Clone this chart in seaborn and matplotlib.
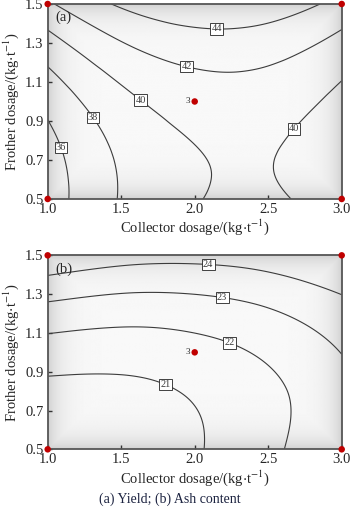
import numpy as np
import matplotlib
matplotlib.use("Agg")
import matplotlib.pyplot as plt
import matplotlib.tri as mtri
import seaborn as sns

# Factor levels (kg/t)
collector = [1.0, 1.5, 2.0, 2.5, 3.0]
frother = [0.5, 0.75, 1.0, 1.25, 1.5]

# Response values on the factor grid: rows follow `frother`, columns follow `collector`
yield_pct = [
    [34.97, 38.14, 39.89, 40.21, 39.11],
    [35.33, 38.35, 39.94, 40.10, 38.84],
    [36.57, 39.43, 40.87, 40.88, 39.47],
    [38.70, 41.41, 42.69, 42.54, 40.97],
    [41.72, 44.27, 45.40, 45.10, 43.37],
]
ash_pct = [
    [20.17, 20.38, 20.91, 21.76, 22.94],
    [20.60, 20.65, 21.03, 21.72, 22.73],
    [21.52, 21.42, 21.63, 22.17, 23.02],
    [22.93, 22.66, 22.72, 23.10, 23.79],
    [24.82, 24.40, 24.30, 24.52, 25.06],
]
yield_levels = [36, 38, 40, 42, 44]
ash_levels = [21, 22, 23, 24]

# Design points: factorial corners plus the replicated centre point
design_collector = [1.0, 1.0, 3.0, 3.0, 2.0]
design_frother = [0.5, 1.5, 0.5, 1.5, 1.0]
center_label = "3"

x_ticks = [1.0, 1.5, 2.0, 2.5, 3.0]
y_ticks = [0.5, 0.7, 0.9, 1.1, 1.3, 1.5]
x_label = r"Collector dosage/(kg$\cdot$t$^{-1}$)"
y_label = r"Frother dosage/(kg$\cdot$t$^{-1}$)"
caption = "(a) Yield; (b) Ash content"

sns.set_theme(style="white")
plt.rcParams["font.family"] = ["Liberation Serif", "DejaVu Serif"]
plt.rcParams["mathtext.fontset"] = "stix"

fig = plt.figure(figsize=(3.5, 5.11), dpi=100)
ax_a = fig.add_axes([0.1363, 0.6106, 0.840, 0.3816])
ax_b = fig.add_axes([0.1363, 0.1207, 0.840, 0.3796])


def shade_background(ax):
    w_px, h_px = 294, 195
    gx = np.linspace(0, 1, 300)
    gy = np.linspace(0, 1, 200)
    dx = np.minimum(gx, 1 - gx)[None, :] * w_px
    dy = np.minimum(gy, 1 - gy)[:, None] * h_px
    d = np.minimum(dx, dy)
    img = 0.975 - 0.15 * np.exp(-d / 13.0)
    ax.imshow(img, extent=(1.0, 3.0, 0.5, 1.5), origin="lower", aspect="auto",
              cmap="gray", vmin=0, vmax=1, interpolation="bilinear", zorder=0)


def draw_panel(ax, grid, levels, label_points, tag):
    shade_background(ax)
    X, Y = np.meshgrid(collector, frother)
    z = np.asarray(grid, dtype=float).ravel()
    tri = mtri.Triangulation(X.ravel(), Y.ravel())
    interp = mtri.CubicTriInterpolator(tri, z, kind="min_E")
    tri_f, z_f = mtri.UniformTriRefiner(tri).refine_field(z, triinterpolator=interp, subdiv=5)
    cs = ax.tricontour(tri_f, z_f, levels=levels, colors="#3c3c3c", linewidths=0.8, zorder=2)
    texts = ax.clabel(cs, fmt="%d", fontsize=7.5, inline=False, manual=label_points)
    for t in texts:
        t.set_rotation(0)
        t.set_bbox(dict(boxstyle="square,pad=0.12", fc="white", ec="#222222", lw=0.6))
        t.set_zorder(4)

    sns.scatterplot(x=design_collector, y=design_frother, ax=ax, color="#c00000",
                    s=22, edgecolor="none", clip_on=False, zorder=6, legend=False)
    ax.text(design_collector[-1] - 0.03, design_frother[-1], center_label, fontsize=6.5,
            ha="right", va="center", zorder=6)
    ax.text(0.025, 0.965, tag, transform=ax.transAxes, fontsize=10.5, ha="left", va="top", zorder=6)

    ax.set_xlim(1.0, 3.0)
    ax.set_ylim(0.5, 1.5)
    ax.set_xticks(x_ticks)
    ax.set_yticks(y_ticks)
    ax.set_xticklabels([f"{v:.1f}" for v in x_ticks])
    ax.set_yticklabels([f"{v:.1f}" for v in y_ticks])
    ax.tick_params(direction="in", length=3, width=1.0, color="#333333",
                   labelsize=10.5, pad=3, bottom=True, left=True, top=False, right=False)
    for s in ax.spines.values():
        s.set_color("#555555")
        s.set_linewidth(1.3)
    ax.set_xlabel(x_label, fontsize=10.5, labelpad=1)
    ax.set_ylabel(y_label, fontsize=10.5, labelpad=3)


draw_panel(ax_a, yield_pct, yield_levels,
           [(2.15, 1.397), (1.953, 1.203), (1.65, 1.023), (2.69, 0.85), (1.33, 0.93), (1.11, 0.77)],
           "(a)")
draw_panel(ax_b, ash_pct, ash_levels,
           [(2.093, 1.467), (2.19, 1.30), (2.245, 1.062), (1.81, 0.844)],
           "(b)")

fig.text(0.486, 0.0235, caption, fontsize=10, color="#1c2340", ha="center", va="center")

fig.savefig("out.png", dpi=100)
